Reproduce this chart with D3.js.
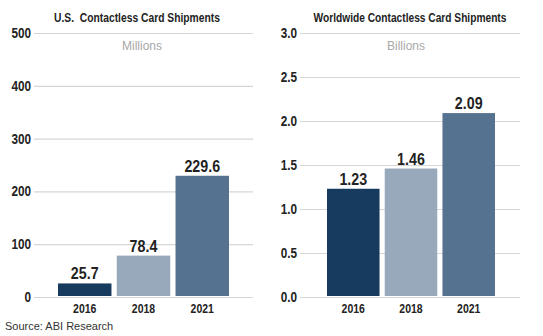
<!DOCTYPE html>
<html>
<head>
<meta charset="utf-8">
<script src="https://cdn.jsdelivr.net/npm/d3@7"></script>
<style>
  body { margin: 0; background: #fff; }
  svg { display: block; }
  .cond { font-family: 'Liberation Sans', Arial, sans-serif; font-weight: bold; }
</style>
</head>
<body>
<svg id="chart"></svg>
<script>
const years = ['2016', '2018', '2021'];
const usValues = [25.7, 78.4, 229.6];
const worldValues = [1.23, 1.46, 2.09];
const usTicks = [0, 100, 200, 300, 400, 500];
const worldTicks = [0, 0.5, 1.0, 1.5, 2.0, 2.5, 3.0];
const barColors = ['#173b5f', '#97a9ba', '#557390'];

const w = 543, h = 336;
const squeeze = 0.84; // narrow look for the bold labels
const svg = d3.select('#chart').attr('width', w).attr('height', h);

const panel = (cfg) => {
  const g = svg.append('g');
  const y = d3.scaleLinear().domain(cfg.domain).range([297, 33]);
  const x = d3.scaleBand().domain(years).range(cfg.barRange).paddingInner(0.09);

  // gridlines
  g.selectAll('.grid')
    .data(cfg.ticks)
    .join('line')
    .attr('x1', cfg.gridRange[0])
    .attr('x2', cfg.gridRange[1])
    .attr('y1', d => y(d) + 0.5)
    .attr('y2', d => y(d) + 0.5)
    .attr('stroke', '#d6d6d6')
    .attr('stroke-width', 1.2);

  g.selectAll('.tick')
    .data(cfg.ticks)
    .join('text')
    .attr('class', 'cond')
    .attr('transform', d => `translate(${cfg.gridRange[0] - 3},${y(d) + 5}) scale(${squeeze},1)`)
    .attr('text-anchor', 'end')
    .attr('font-size', 14)
    .attr('fill', '#222')
    .text(d => cfg.fmt(d));

  const data = years.map((yr, i) => ({ yr, v: cfg.values[i], c: barColors[i] }));

  g.selectAll('.bar')
    .data(data)
    .join('rect')
    .attr('x', d => x(d.yr))
    .attr('y', d => y(d.v))
    .attr('width', x.bandwidth())
    .attr('height', d => y(0) - 1 - y(d.v))
    .attr('fill', d => d.c);

  g.selectAll('.val')
    .data(data)
    .join('text')
    .attr('class', 'cond')
    .attr('transform', d => `translate(${x(d.yr) + x.bandwidth() / 2},${y(d.v) - 4}) scale(${squeeze},1)`)
    .attr('text-anchor', 'middle')
    .attr('font-size', 17)
    .attr('fill', '#222')
    .text(d => d.v);

  g.selectAll('.xl')
    .data(years)
    .join('text')
    .attr('class', 'cond')
    .attr('transform', d => `translate(${x(d) + x.bandwidth() / 2},313) scale(${squeeze},1)`)
    .attr('text-anchor', 'middle')
    .attr('font-size', 12.5)
    .attr('fill', '#222')
    .text(d => d);

  // title, squeezed to its target width
  const title = g.append('text')
    .attr('class', 'cond')
    .attr('text-anchor', 'middle')
    .attr('font-size', 13)
    .attr('fill', '#222')
    .attr('xml:space', 'preserve')
    .text(cfg.title);
  const k = cfg.titleLen / title.node().getComputedTextLength();
  title.attr('transform', `translate(${cfg.titleX},22) scale(${k},1)`);

  g.append('text')
    .attr('x', cfg.unitX)
    .attr('y', 50)
    .attr('text-anchor', 'middle')
    .attr('font-family', 'Liberation Sans, Arial, sans-serif')
    .attr('font-size', 12)
    .attr('fill', '#a8a8a8')
    .text(cfg.unit);
};

panel({
  domain: [0, 500], ticks: usTicks, values: usValues,
  barRange: [58, 229], gridRange: [34, 253],
  fmt: d3.format('d'),
  title: 'U.S.  Contactless Card Shipments', titleX: 137, titleLen: 166,
  unit: 'Millions', unitX: 142
});

panel({
  domain: [0, 3], ticks: worldTicks, values: worldValues,
  barRange: [327, 495], gridRange: [300, 520],
  fmt: d3.format('.1f'),
  title: 'Worldwide Contactless Card Shipments', titleX: 410, titleLen: 193,
  unit: 'Billions', unitX: 406
});

svg.append('text')
  .attr('x', 5)
  .attr('y', 330)
  .attr('font-family', 'Liberation Sans, Arial, sans-serif')
  .attr('font-size', 11)
  .attr('fill', '#333')
  .text('Source: ABI Research');
</script>
</body>
</html>
